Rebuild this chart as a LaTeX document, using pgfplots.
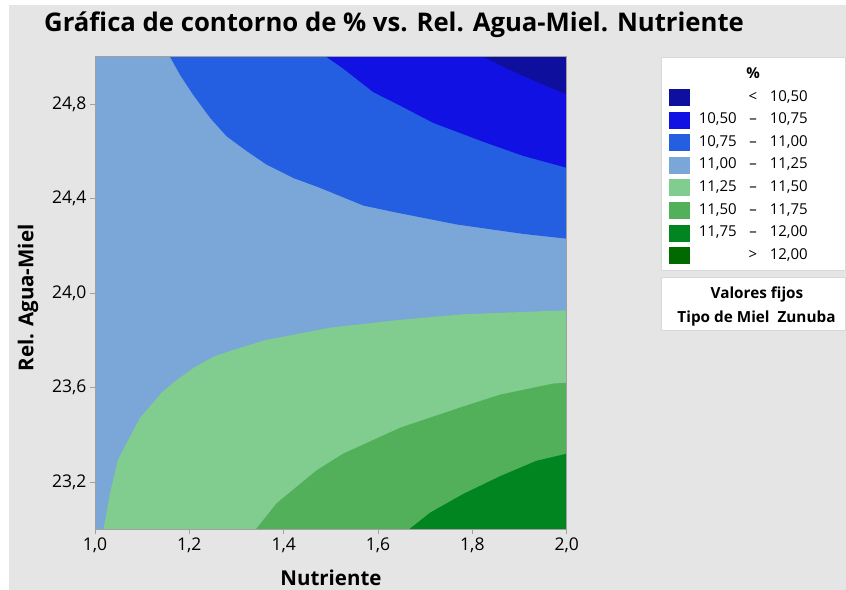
\documentclass[border=0pt]{standalone}
\usepackage{pgfplots}
\pgfplotsset{compat=1.18}
\usepackage{fontspec}
\setmainfont{Open Sans}
\definecolor{bg}{HTML}{E5E5E5}
\definecolor{cA}{HTML}{0F0F9E}
\definecolor{cB}{HTML}{1111E3}
\definecolor{cC}{HTML}{245FE2}
\definecolor{cD}{HTML}{7BA7D8}
\definecolor{cE}{HTML}{80CD8F}
\definecolor{cF}{HTML}{52B05A}
\definecolor{cG}{HTML}{008521}
\definecolor{cH}{HTML}{006A00}
\definecolor{frm}{HTML}{A0A0A0}
\begin{document}
\begin{tikzpicture}
\fill[white] (0bp,0bp) rectangle (846bp,-590bp);
\fill[bg] (9bp,-5bp) rectangle (846bp,-590bp);
\begin{axis}[
  at={(95bp,-529.3bp)}, anchor=south west,
  scale only axis, width=471.7bp, height=472.6bp,
  xmin=1, xmax=2, ymin=23, ymax=25,
  xtick={1,1.2,...,2.01}, ytick={23.2,23.6,24.0,24.4,24.8},
  xtick pos=bottom, ytick pos=left,
  tick align=outside, major tick length=5bp,
  every tick/.style={frm, line width=0.8bp},
  axis line style={frm, line width=0.8bp},
  /pgf/number format/.cd, fixed, fixed zerofill, precision=1, use comma, assume math mode=true,
  /pgfplots/.cd,
  tick label style={font=\fontsize{17.5bp}{20bp}\selectfont, text=black},
  axis on top,
]
\addplot[fill=cD, draw=none] coordinates {(1,23) (2,23) (2,25) (1,25)} -- cycle;
\addplot[fill=cC, draw=none] coordinates {(1.159,25.0) (1.180,24.924) (1.208,24.839) (1.244,24.741) (1.279,24.663) (1.322,24.600) (1.364,24.543) (1.420,24.487) (1.477,24.445) (1.569,24.37) (1.640,24.34) (1.767,24.29) (1.908,24.25) (2.0,24.23) (2.0,25.0)} -- cycle;
\addplot[fill=cB, draw=none] coordinates {(1.490,25.0) (1.526,24.95) (1.590,24.85) (1.640,24.80) (1.717,24.72) (1.823,24.64) (1.908,24.58) (2.0,24.53) (2.0,25.0)} -- cycle;
\addplot[fill=cA, draw=none] coordinates {(1.823,25.0) (1.873,24.95) (1.929,24.90) (2.0,24.84) (2.0,25.0)} -- cycle;
\addplot[fill=cE, draw=none] coordinates {(1.018,23.0) (1.032,23.155) (1.049,23.296) (1.071,23.38) (1.095,23.47) (1.141,23.578) (1.170,23.627) (1.212,23.687) (1.254,23.733) (1.297,23.761) (1.360,23.80) (1.498,23.853) (1.640,23.885) (1.781,23.91) (2.0,23.927) (2.0,23.0)} -- cycle;
\addplot[fill=cF, draw=none] coordinates {(1.341,23.0) (1.385,23.11) (1.470,23.25) (1.526,23.32) (1.647,23.43) (1.781,23.52) (1.859,23.57) (1.972,23.617) (2.0,23.62) (2.0,23.0)} -- cycle;
\addplot[fill=cG, draw=none] coordinates {(1.666,23.0) (1.710,23.07) (1.781,23.15) (1.859,23.225) (1.936,23.29) (2.0,23.32) (2.0,23.0)} -- cycle;
\end{axis}
% title and axis labels
\node[anchor=base west, inner sep=0pt, font=\fontsize{25.7bp}{30bp}\selectfont\bfseries] at (44bp,-31.7bp) {Gráfica de contorno de \% vs. Rel. Agua-Miel. Nutriente};
\node[anchor=base, inner sep=0pt, font=\fontsize{20.5bp}{24bp}\selectfont\bfseries] at (331bp,-585bp) {Nutriente};
\node[anchor=base, rotate=90, inner sep=0pt, font=\fontsize{20.5bp}{24bp}\selectfont\bfseries] at (33.3bp,-298bp) {Rel. Agua-Miel};
% legend
\draw[white!70!gray, fill=white, line width=1bp] (661.7bp,-57.7bp) rectangle (845.5bp,-270.7bp);
\draw[white!70!gray, fill=white, line width=1bp] (661.7bp,-277.7bp) rectangle (845.5bp,-330.7bp);
\begin{scope}[every node/.style={inner sep=0pt, font=\fontsize{15bp}{18bp}\selectfont}]
\node[anchor=base, font=\fontsize{15bp}{18bp}\selectfont\bfseries] at (753bp,-78bp) {\%};
\foreach \c [count=\i from 0] in {cA,cB,cC,cD,cE,cF,cG,cH}{
  \fill[\c] (669bp,{-(89+22.6*\i)*1bp}) rectangle (690bp,{-(106+22.6*\i)*1bp});
}
\def\row#1#2#3#4{%
  \node[anchor=base east] at (737bp,{-(101+22.6*#1)*1bp}) {#2};
  \node[anchor=base] at (753bp,{-(101+22.6*#1)*1bp}) {#3};
  \node[anchor=base east] at (808bp,{-(101+22.6*#1)*1bp}) {#4};}
\row{0}{}{<}{10,50}
\row{1}{10,50}{–}{10,75}
\row{2}{10,75}{–}{11,00}
\row{3}{11,00}{–}{11,25}
\row{4}{11,25}{–}{11,50}
\row{5}{11,50}{–}{11,75}
\row{6}{11,75}{–}{12,00}
\row{7}{}{>}{12,00}
\node[anchor=base, font=\fontsize{15.3bp}{18bp}\selectfont\bfseries] at (757bp,-298.3bp) {Valores fijos};
\node[anchor=base, font=\fontsize{15.3bp}{18bp}\selectfont\bfseries] at (756.5bp,-322.3bp) {Tipo de Miel\ \ Zunuba};
\end{scope}
\end{tikzpicture}
\end{document}
